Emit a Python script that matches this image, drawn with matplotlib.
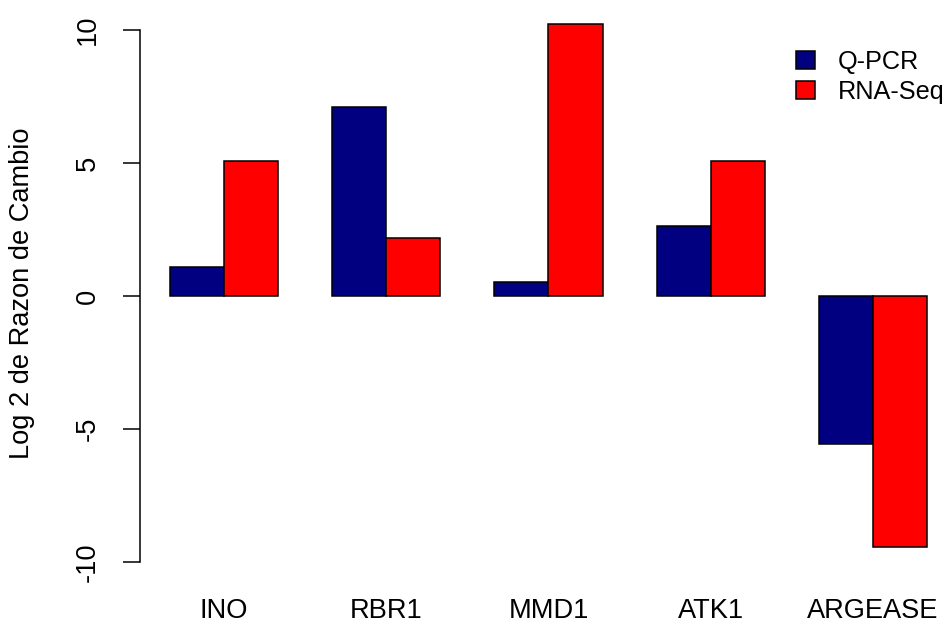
import matplotlib
matplotlib.use("Agg")
import matplotlib.pyplot as plt
from matplotlib.patches import Patch
import numpy as np

# Log2 de la razon de cambio por gen, Q-PCR frente a RNA-Seq
genes = ["INO", "RBR1", "MMD1", "ATK1", "ARGEASE"]
qpcr = [1.1, 7.1, 0.53, 2.62, -5.55]
rnaseq = [5.09, 2.19, 10.23, 5.09, -9.45]

COLOR_QPCR = "#000080"
COLOR_RNA = "#ff0000"

plt.rcParams["font.family"] = ["Liberation Sans", "DejaVu Sans"]
FS = 19.6
FS_LEG = 18.2

W, H = 944, 624
fig = plt.figure(figsize=(W / 100, H / 100), dpi=100)

# region del grafico en pixeles: izquierda 140, arriba 2, abajo 568
ax = fig.add_axes([140 / W, (H - 568) / H, (W - 140) / W, (568 - 2) / H])

px_x = 54.07   # pixeles por unidad en x
px_y = 26.6    # pixeles por unidad en y
y0_px = 296    # pixel de y = 0

x_left = 1 - 30 / px_x
ax.set_xlim(x_left, x_left + (W - 140) / px_x)
ax.set_ylim((y0_px - 568) / px_y, (y0_px - 2) / px_y)

pos = np.arange(len(genes)) * 3 + 1
ax.bar(pos, qpcr, width=1, align="edge", color=COLOR_QPCR,
       edgecolor="black", linewidth=1.1)
ax.bar(pos + 1, rnaseq, width=1, align="edge", color=COLOR_RNA,
       edgecolor="black", linewidth=1.1)

for s in ["top", "right", "bottom"]:
    ax.spines[s].set_visible(False)
ax.spines["left"].set_bounds(-10, 10)
ax.spines["left"].set_linewidth(1.1)

ax.set_yticks([-10, -5, 0, 5, 10])
ax.set_yticklabels(["-10", "-5", "0", "5", "10"], rotation=90, va="center",
                   fontsize=FS)
ax.tick_params(axis="y", length=12.2, width=1.1, pad=16)

ax.set_xticks(pos + 1)
ax.set_xticklabels(genes, fontsize=FS)
ax.tick_params(axis="x", length=0, pad=21.5)

ax.set_ylabel("Log 2 de Razon de Cambio", fontsize=FS)
ax.yaxis.set_label_coords(-(140 - 35) / (W - 140), 1 - (293.5 - 2) / 566)

handles = [Patch(facecolor=COLOR_QPCR, edgecolor="black", linewidth=1.1),
           Patch(facecolor=COLOR_RNA, edgecolor="black", linewidth=1.1)]
ax.legend(handles, ["Q-PCR", "RNA-Seq"], frameon=False, fontsize=FS_LEG,
          loc="upper left", bbox_to_anchor=(796 / W, 1 - 50 / H),
          bbox_transform=fig.transFigure, handlelength=0.74,
          handleheight=0.74, handletextpad=0.9, labelspacing=0.23,
          borderpad=0, borderaxespad=0)

fig.savefig("out.png", dpi=100)
